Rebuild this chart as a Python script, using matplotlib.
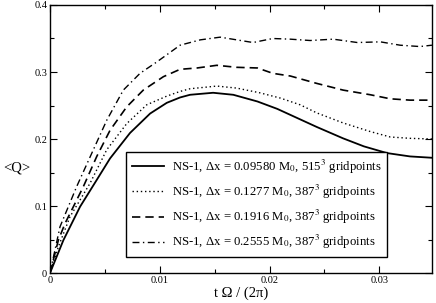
import matplotlib
matplotlib.use('Agg')
from matplotlib import pyplot as plt
from matplotlib.ticker import MultipleLocator

plt.rcParams['font.family'] = ['Liberation Serif', 'DejaVu Serif']
plt.rcParams['mathtext.fontset'] = 'stix'

# curves, t in units of 2pi/Omega
t_solid = [0, 0.00122, 0.00274, 0.00426, 0.00547, 0.00729, 0.00912, 0.01064, 0.01185, 0.01276,
           0.01486, 0.0167, 0.0189, 0.0207, 0.0219, 0.0243, 0.0267, 0.0286, 0.0307, 0.0328, 0.0348]
q_solid = [0, 0.049, 0.099, 0.139, 0.171, 0.209, 0.238, 0.254, 0.262, 0.266,
           0.269, 0.266, 0.256, 0.245, 0.236, 0.218, 0.201, 0.189, 0.179, 0.174, 0.172]

t_dot = [0, 0.00076, 0.00182, 0.00365, 0.00517, 0.00699, 0.00881, 0.01064, 0.01185, 0.01276,
         0.0152, 0.017, 0.0191, 0.021, 0.0228, 0.0243, 0.0267, 0.0292, 0.031, 0.0328, 0.0348]
q_dot = [0, 0.039, 0.084, 0.134, 0.184, 0.223, 0.251, 0.264, 0.271, 0.275,
         0.279, 0.276, 0.269, 0.261, 0.251, 0.239, 0.224, 0.211, 0.203, 0.201, 0.200]

t_dash = [0, 0.00076, 0.00137, 0.00304, 0.00426, 0.00547, 0.00699, 0.0085, 0.01033, 0.01185, 0.0134,
          0.0152, 0.017, 0.0189, 0.0203, 0.0219, 0.0243, 0.0267, 0.0292, 0.031, 0.0328, 0.0348]
q_dash = [0, 0.049, 0.074, 0.129, 0.174, 0.213, 0.248, 0.273, 0.293, 0.304, 0.306,
          0.310, 0.307, 0.306, 0.298, 0.294, 0.283, 0.273, 0.266, 0.260, 0.258, 0.258]

t_dd = [0, 0.00091, 0.00243, 0.00395, 0.00517, 0.00668, 0.0082, 0.00973, 0.01185, 0.0137, 0.0155,
        0.017, 0.0185, 0.0203, 0.0219, 0.0237, 0.0258, 0.028, 0.0301, 0.0319, 0.0337, 0.0348]
q_dd = [0, 0.069, 0.129, 0.184, 0.228, 0.273, 0.298, 0.315, 0.340, 0.348, 0.352,
        0.348, 0.344, 0.350, 0.349, 0.347, 0.349, 0.344, 0.345, 0.340, 0.338, 0.340]

labels = ['NS-1, \u0394x = 0.09580 M$_0$, 515$^3$ gridpoints',
          'NS-1, \u0394x = 0.1277 M$_0$, 387$^3$ gridpoints',
          'NS-1, \u0394x = 0.1916 M$_0$, 387$^3$ gridpoints',
          'NS-1, \u0394x = 0.2555 M$_0$, 387$^3$ gridpoints']

fig = plt.figure(figsize=(4.36, 3.03), dpi=100)
ax = fig.add_axes([0.1147, 0.099, 0.876, 0.8845])

ax.plot(t_solid, q_solid, color='black', lw=1.3, ls='-', label=labels[0])
ax.plot(t_dot, q_dot, color='black', lw=1.0, ls=(0, (1, 2)), label=labels[1])
ax.plot(t_dash, q_dash, color='black', lw=1.2, ls=(0, (5, 3)), label=labels[2])
ax.plot(t_dd, q_dd, color='black', lw=1.0, ls=(0, (5, 2.5, 1, 2.5)), label=labels[3])

ax.set_xlim(0, 0.0348)
ax.set_ylim(0, 0.4)
ax.xaxis.set_minor_locator(MultipleLocator(0.005))
ax.yaxis.set_minor_locator(MultipleLocator(0.05))
ax.set_xticks([0, 0.01, 0.02, 0.03])
ax.set_xticklabels(['0', '0.01', '0.02', '0.03'])
ax.set_yticks([0, 0.1, 0.2, 0.3, 0.4])
ax.set_yticklabels(['0', '0.1', '0.2', '0.3', '0.4'])
ax.tick_params(which='both', direction='in', top=True, right=True, labelsize=7.5, width=0.8)
ax.tick_params(which='major', length=5, pad=2)
ax.tick_params(which='minor', length=3)
for s in ax.spines.values():
    s.set_linewidth(1.0)

ax.set_xlabel('t \u03a9 / (2\u03c0)', fontsize=10.5, labelpad=1)
fig.text(0.008, 0.445, '<Q>', fontsize=10.5, va='center', ha='left')

leg = ax.legend(loc='lower left', bbox_to_anchor=(0.2, 0.06), fontsize=9.2, frameon=True,
                fancybox=False, edgecolor='black', framealpha=1, handlelength=2.5,
                labelspacing=0.55, borderpad=0.45, handletextpad=0.6, borderaxespad=0)
leg.get_frame().set_linewidth(1.0)

fig.savefig('out.png', dpi=100)
